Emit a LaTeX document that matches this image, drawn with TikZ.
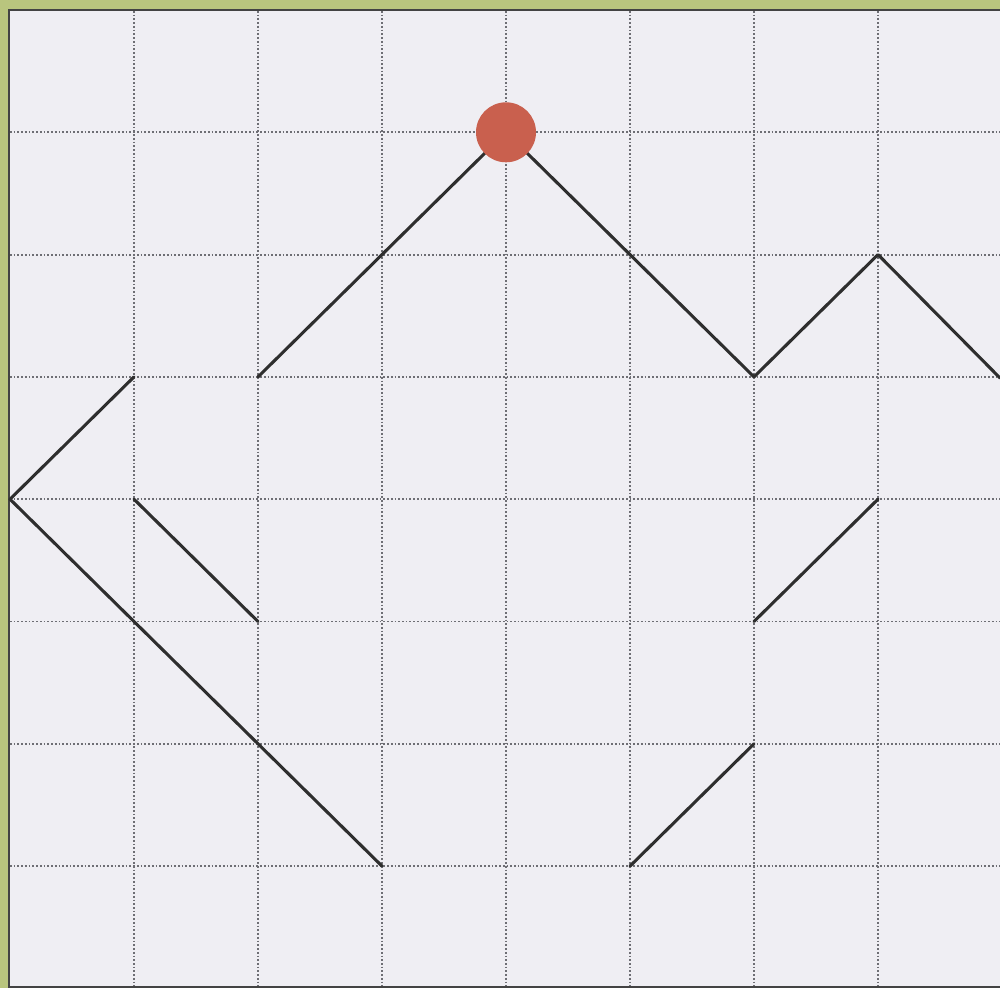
\documentclass[tikz,border=0pt]{standalone}
\usetikzlibrary{calc}
\definecolor{frameg}{HTML}{B9C57E}
\definecolor{paper}{HTML}{EFEEF3}
\definecolor{gridc}{HTML}{6E6E74}
\definecolor{dotred}{HTML}{C9604E}
\definecolor{ink}{HTML}{2E2E2E}
\tikzset{
  gridline/.style={gridc, line width=1.4pt, dash pattern=on 1.3pt off 1.5pt},
  pathline/.style={ink, line width=2.3pt, line cap=round, line join=round},
  reddot/.style={circle, fill=dotred, minimum size=45pt, inner sep=0pt, draw=none},
}
\begin{document}
\begin{tikzpicture}[x=0.75pt,y=-0.75pt]
\useasboundingbox (0,0) rectangle (1000,988);
\fill[frameg] (0,0) rectangle (1000,988);
\fill[paper] (9,10) rectangle (1000,987);
\draw[ink!90, line width=2.2pt] (1000,10) -- (9,10) -- (9,987) -- (1000,987);
% grid
\foreach \i in {1,...,7} {
  \draw[gridline] ({10+124*\i},11) -- ({10+124*\i},986);
}
\foreach \j in {1,...,7} {
  \draw[gridline] (10,{10+122.3*\j}) -- (1000,{10+122.3*\j});
}
% grid points
\foreach \i in {0,...,8} {
  \foreach \j in {0,...,8} {
    \coordinate (p\i-\j) at ({10+124*\i},{10+122.3*\j});
  }
}
\coordinate (rr) at (1000,378);
\draw[pathline] (p2-3) -- (p4-1) -- (p6-3) -- (p7-2) -- (rr);
\draw[pathline] (p1-3) -- (p0-4) -- (p3-7);
\draw[pathline] (p1-4) -- (p2-5);
\draw[pathline] (p7-4) -- (p6-5);
\draw[pathline] (p6-6) -- (p5-7);
\node[reddot] (top) at (p4-1) {};
\end{tikzpicture}
\end{document}
